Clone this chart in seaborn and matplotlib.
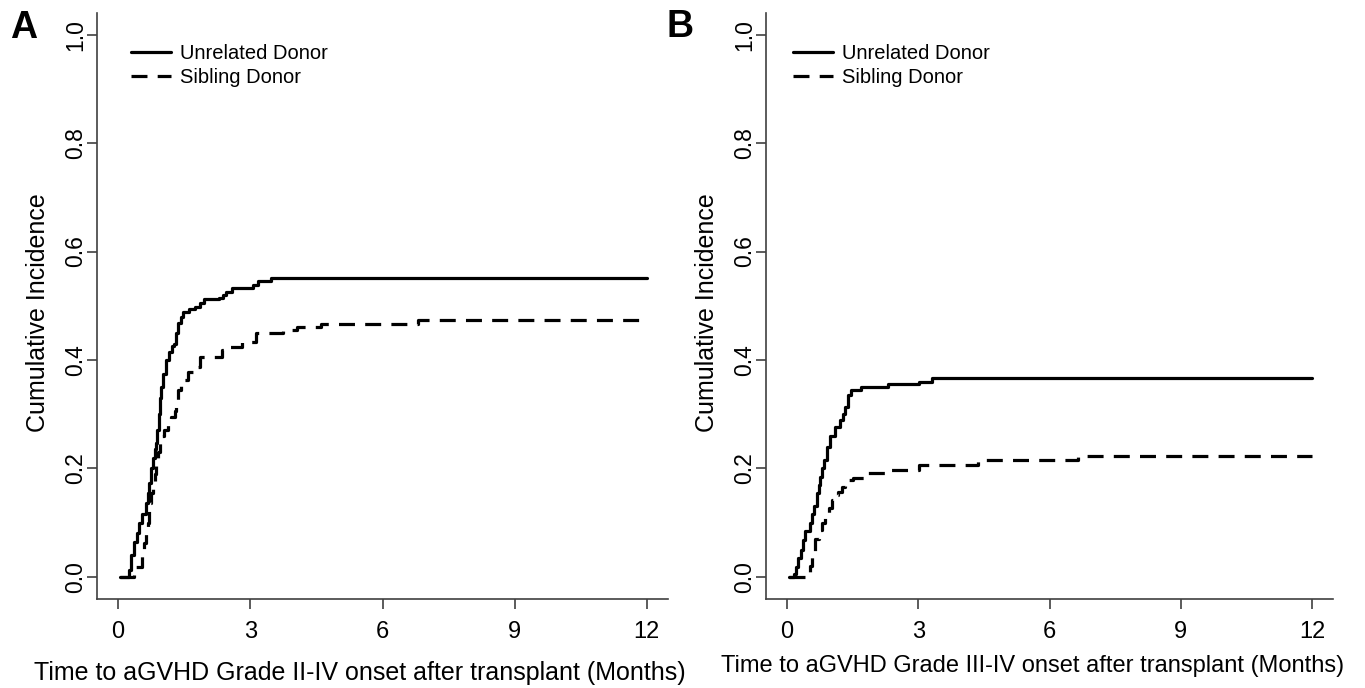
import numpy as np
import pandas as pd
import matplotlib
matplotlib.use("Agg")
import matplotlib.pyplot as plt
import seaborn as sns

# ---------------- data ----------------
panel_letters = ["A", "B"]
series_names = ["Unrelated Donor", "Sibling Donor"]
x_ticks = [0, 3, 6, 9, 12]
y_ticks = [0.0, 0.2, 0.4, 0.6, 0.8, 1.0]
y_tick_labels = ["0.0", "0.2", "0.4", "0.6", "0.8", "1.0"]
x_labels = ["Time to aGVHD Grade II-IV onset after transplant (Months)",
            "Time to aGVHD Grade III-IV onset after transplant (Months)"]
y_label = "Cumulative Incidence"

# Panel A - Unrelated donor (solid)
a_unrel_t = [0.05, 0.25, 0.30, 0.36, 0.42, 0.48, 0.55, 0.63, 0.68, 0.71, 0.75, 0.79,
             0.83, 0.86, 0.89, 0.92, 0.95, 0.98, 1.02, 1.09, 1.16, 1.22, 1.27, 1.32,
             1.36, 1.42, 1.48, 1.60, 1.75, 1.85, 1.94, 2.29, 2.37, 2.44, 2.59, 3.05,
             3.17, 3.48, 12.0]
a_unrel_y = [0.0, 0.013, 0.04, 0.065, 0.08, 0.10, 0.115, 0.136, 0.155, 0.173, 0.20, 0.22,
             0.235, 0.247, 0.27, 0.30, 0.33, 0.35, 0.375, 0.40, 0.415, 0.425, 0.43, 0.45,
             0.468, 0.48, 0.489, 0.494, 0.498, 0.505, 0.512, 0.514, 0.52, 0.525, 0.532, 0.538,
             0.546, 0.552, 0.552]
# Panel A - Sibling donor (dashed)
a_sib_t = [0.05, 0.36, 0.55, 0.59, 0.63, 0.67, 0.71, 0.75, 0.79, 0.83, 0.86, 0.90,
           0.94, 1.00, 1.05, 1.13, 1.21, 1.28, 1.32, 1.36, 1.42, 1.48, 1.59, 1.75,
           1.86, 2.36, 2.52, 2.82, 3.13, 3.74, 4.05, 4.60, 6.80, 12.0]
a_sib_y = [0.0, 0.019, 0.04, 0.062, 0.08, 0.10, 0.136, 0.155, 0.173, 0.19, 0.21, 0.23,
           0.247, 0.26, 0.27, 0.283, 0.295, 0.305, 0.325, 0.344, 0.355, 0.363, 0.378, 0.387,
           0.406, 0.418, 0.424, 0.433, 0.449, 0.456, 0.46, 0.466, 0.473, 0.473]
# Panel B - Unrelated donor (solid)
b_unrel_t = [0.05, 0.15, 0.20, 0.25, 0.31, 0.36, 0.42, 0.53, 0.57, 0.61, 0.68, 0.72,
             0.76, 0.80, 0.84, 0.91, 0.99, 1.10, 1.21, 1.27, 1.32, 1.40, 1.47, 1.70,
             2.30, 3.02, 3.32, 12.0]
b_unrel_y = [0.0, 0.005, 0.019, 0.035, 0.05, 0.068, 0.084, 0.099, 0.115, 0.13, 0.154, 0.17,
             0.185, 0.20, 0.216, 0.24, 0.259, 0.277, 0.29, 0.30, 0.314, 0.336, 0.345, 0.351,
             0.355, 0.36, 0.366, 0.366]
# Panel B - Sibling donor (dashed)
b_sib_t = [0.05, 0.53, 0.57, 0.65, 0.72, 0.80, 0.87, 0.95, 1.02, 1.10, 1.17, 1.25,
           1.32, 1.40, 1.51, 1.78, 2.30, 3.02, 4.37, 6.66, 12.0]
b_sib_y = [0.0, 0.02, 0.044, 0.069, 0.087, 0.10, 0.111, 0.127, 0.142, 0.15, 0.157, 0.165,
           0.173, 0.178, 0.183, 0.191, 0.197, 0.207, 0.215, 0.223, 0.223]

panels = [
    [(a_unrel_t, a_unrel_y), (a_sib_t, a_sib_y)],
    [(b_unrel_t, b_unrel_y), (b_sib_t, b_sib_y)],
]

# ---------------- styling ----------------
sns.set_style("ticks")
plt.rcParams["font.family"] = ["Liberation Sans", "DejaVu Sans"]
plt.rcParams["text.color"] = "black"
plt.rcParams["axes.labelcolor"] = "black"

W, H = 1365, 688
fig = plt.figure(figsize=(W / 100, H / 100), dpi=100)

# axes boxes in pixels: left, right, top, bottom
boxes = [(97, 668, 13, 598.5), (766, 1333, 13, 598.5)]
xlabel_sizes = [18, 17]
xlabel_cx = [360, 1033]
xlabel_top = [661, 655]
ylabel_cx = [38, 707]
legend_x = [131, 793]
letter_pos = [(24, 28), (680, 27)]

styles = [dict(linestyle="-"), dict(linestyle=(0, (5, 3.2)))]

for i in range(2):
    l, r, t, b = boxes[i]
    ax = fig.add_axes([l / W, (H - b) / H, (r - l) / W, (b - t) / H])
    for j, (tt, yy) in enumerate(panels[i]):
        df = pd.DataFrame({"t": tt, "y": yy})
        sns.lineplot(data=df, x="t", y="y", ax=ax, color="black", lw=2.3,
                     drawstyle="steps-post", estimator=None, sort=False,
                     label=series_names[j], **styles[j])
    ax.set_xlim(-0.48, 12.48)
    ax.set_ylim(-0.04, 1.04)
    ax.set_xticks(x_ticks)
    ax.set_xticklabels([str(v) for v in x_ticks])
    ax.set_yticks(y_ticks)
    ax.set_yticklabels(y_tick_labels, rotation=90, va="center")
    for s in ["top", "right"]:
        ax.spines[s].set_visible(False)
    for s in ["left", "bottom"]:
        ax.spines[s].set_color("#404040")
        ax.spines[s].set_linewidth(1.2)
    ax.tick_params(axis="both", direction="out", length=7, width=1.2,
                   color="#404040", labelcolor="black", labelsize=17)
    ax.tick_params(axis="x", pad=9)
    ax.tick_params(axis="y", pad=0, labelsize=16.5)

    ax.set_xlabel(x_labels[i], fontsize=xlabel_sizes[i], color="black")
    ax.xaxis.set_label_coords((xlabel_cx[i] - l) / (r - l), (b - xlabel_top[i]) / (b - t))
    ax.set_ylabel(y_label, fontsize=18, color="black")
    ax.yaxis.set_label_coords((ylabel_cx[i] + 12 - l) / (r - l), 0.5 - (313 - (t + b) / 2) / (b - t))

    leg = ax.legend(loc="upper left",
                    bbox_to_anchor=((legend_x[i] - l) / (r - l), (b - 44) / (b - t)),
                    frameon=False, fontsize=14.5, handlelength=2.0, handletextpad=0.45,
                    labelspacing=0.25, borderpad=0, borderaxespad=0)
    for h in leg.get_lines():
        h.set_linewidth(2.3)

    fig.text(letter_pos[i][0] / W, 1 - letter_pos[i][1] / H, panel_letters[i],
             fontsize=27, fontweight="bold", ha="center", va="center", color="black")

fig.savefig("out.png", dpi=100)
